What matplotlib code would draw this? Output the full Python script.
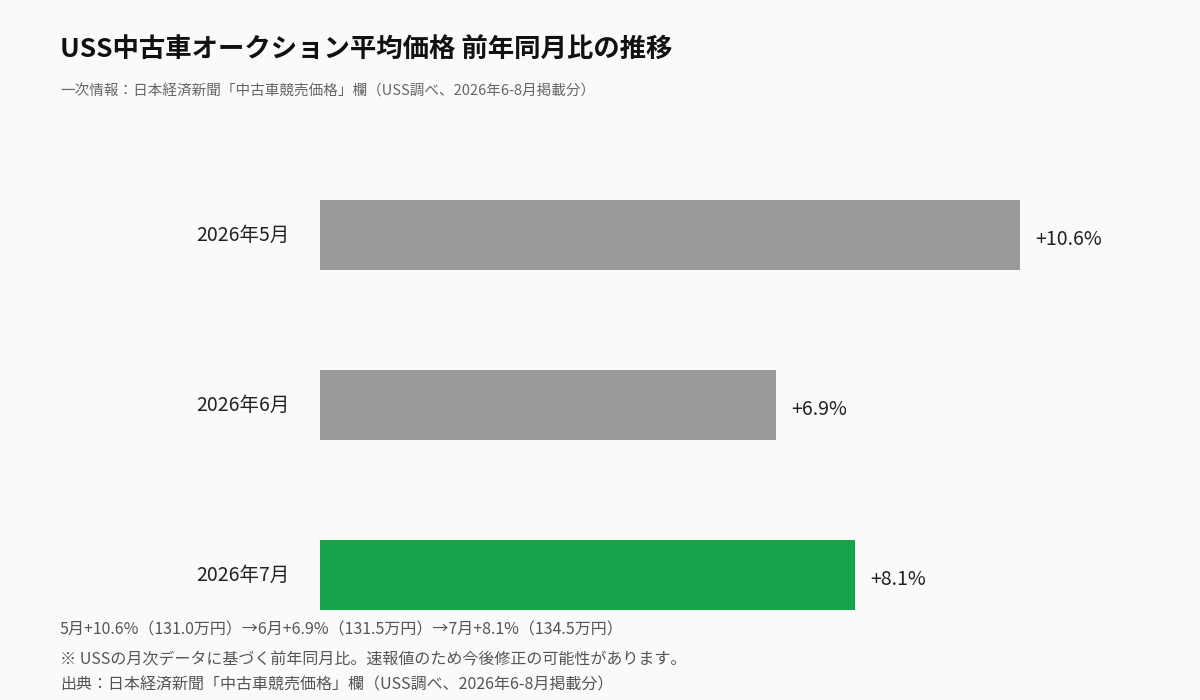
import matplotlib
matplotlib.use("Agg")
import matplotlib.pyplot as plt

plt.rcParams["font.family"] = ["Noto Sans CJK JP", "DejaVu Sans"]

months = ["2026年5月", "2026年6月", "2026年7月"]
yoy = [10.6, 6.9, 8.1]
value_labels = ["+10.6%", "+6.9%", "+8.1%"]
colors = ["#9a9a9a", "#9a9a9a", "#16a34a"]

W, H = 1200, 700
fig = plt.figure(figsize=(12, 7), dpi=100, facecolor="#fafafa")

# axes: x from 320px to 1120px, y from 150px to 660px (top-based)
ax = fig.add_axes([320 / W, 1 - 660 / H, 800 / W, 510 / H])
ax.set_facecolor("#fafafa")
ax.barh(range(len(months)), yoy, height=70 / 170, color=colors)
ax.set_xlim(0, 10.6 * 800 / 700)
ax.set_ylim(2.5, -0.5)
ax.axis("off")

for i, (m, v, lab) in enumerate(zip(months, yoy, value_labels)):
    ax.annotate(m, (0, i), xytext=(-22, 0), textcoords="offset points",
                ha="right", va="center", fontsize=14, color="#222222")
    ax.annotate(lab, (v, i), xytext=(11, -3), textcoords="offset points",
                ha="left", va="center", fontsize=14, color="#222222")

fig.text(60 / W, 1 - 50 / H, "USS中古車オークション平均価格 前年同月比の推移",
         fontsize=19, fontweight="bold", va="center", color="#111111")
fig.text(60 / W, 1 - 92 / H,
         "一次情報：日本経済新聞「中古車競売価格」欄（USS調べ、2026年6-8月掲載分）",
         fontsize=10.5, va="center", color="#666666")

footer = [
    "5月+10.6%（131.0万円）→6月+6.9%（131.5万円）→7月+8.1%（134.5万円）",
    "※ USSの月次データに基づく前年同月比。速報値のため今後修正の可能性があります。",
    "出典：日本経済新聞「中古車競売価格」欄（USS調べ、2026年6-8月掲載分）",
]
for y, t in zip([630, 660, 685], footer):
    fig.text(60 / W, 1 - y / H, t, fontsize=11.5, va="center", color="#555555")

fig.savefig("out.png", dpi=100, facecolor=fig.get_facecolor())
